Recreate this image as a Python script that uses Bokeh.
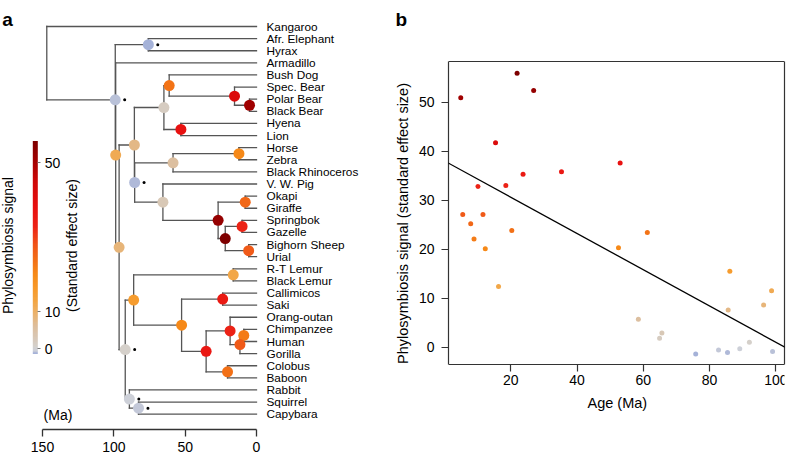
import numpy as np
from bokeh.plotting import figure
from bokeh.models import (ColumnDataSource, Range1d, LinearColorMapper, ColorBar,
                          FixedTicker, Label, Slope, Span, LinearAxis)
from bokeh.layouts import row
from bokeh.embed import file_html
from bokeh.resources import INLINE
from bokeh.transform import transform, dodge
from bokeh.core.properties import value

FONT = "Liberation Sans"

# ---------------- data ----------------
tips = ["Kangaroo", "Afr. Elephant", "Hyrax", "Armadillo", "Bush Dog", "Spec. Bear",
        "Polar Bear", "Black Bear", "Hyena", "Lion", "Horse", "Zebra", "Black Rhinoceros",
        "V. W. Pig", "Okapi", "Giraffe", "Springbok", "Gazelle", "Bighorn Sheep", "Urial",
        "R-T Lemur", "Black Lemur", "Callimicos", "Saki", "Orang-outan", "Chimpanzee",
        "Human", "Gorilla", "Colobus", "Baboon", "Rabbit", "Squirrel", "Capybara"]

root_age = 147.0
root_children = ["Kangaroo", "Eutheria"]

node_names = ["Eutheria", "Afrotheria", "Exafroplacentalia", "Boreoeutheria",
              "Laurasiatheria", "Carnivora", "Caniformia", "Ursidae", "Ursus",
              "Feliformia", "Euungulata", "Perissodactyla", "Equus", "Cetartiodactyla",
              "Ruminantia", "Giraffidae", "Bovidae", "Antilopinae", "Caprinae",
              "Euarchontoglires", "Primates", "Lemuridae", "Anthropoidea", "Platyrrhini",
              "Catarrhini", "Hominidae", "Hominini", "Homininae", "Cercopithecidae",
              "Glires", "Rodentia"]
node_age = [99.0, 75.8, 98.7, 96.3,
            85.6, 64.9, 61.2, 15.4, 4.9,
            53.0, 85.4, 58.5, 12.3, 65.6,
            26.9, 7.9, 21.9, 10.1, 5.5,
            92.0, 86.1, 16.3, 52.5, 23.7,
            35.3, 18.5, 8.9, 11.6, 20.3,
            89.1, 82.7]
node_signal = [-0.9, -1.4, 11.5, 8.6,
               7.6, 1.8, 23.4, 41.7, 50.9,
               37.6, -1.1, 5.7, 20.1, 2.9,
               52.4, 25.2, 55.9, 32.8, 27.1,
               1.0, 15.5, 12.4, 20.3, 35.3,
               35.8, 33.0, 22.1, 27.1, 23.8,
               -0.3, -0.6]
node_child_a = ["Afrotheria", "Afr. Elephant", "Armadillo", "Laurasiatheria",
                "Carnivora", "Caniformia", "Bush Dog", "Spec. Bear", "Polar Bear",
                "Hyena", "Perissodactyla", "Equus", "Horse", "V. W. Pig",
                "Giraffidae", "Okapi", "Antilopinae", "Springbok", "Bighorn Sheep",
                "Primates", "Lemuridae", "R-T Lemur", "Platyrrhini", "Callimicos",
                "Hominidae", "Orang-outan", "Chimpanzee", "Hominini", "Colobus",
                "Rabbit", "Squirrel"]
node_child_b = ["Exafroplacentalia", "Hyrax", "Boreoeutheria", "Euarchontoglires",
                "Euungulata", "Feliformia", "Ursidae", "Ursus", "Black Bear",
                "Lion", "Cetartiodactyla", "Black Rhinoceros", "Zebra", "Ruminantia",
                "Bovidae", "Giraffe", "Caprinae", "Gazelle", "Urial",
                "Glires", "Anthropoidea", "Black Lemur", "Catarrhini", "Saki",
                "Cercopithecidae", "Homininae", "Human", "Gorilla", "Baboon",
                "Rodentia", "Capybara"]
node_nonsig = [True, True, False, False,
               False, False, False, False, False,
               False, True, False, False, False,
               False, False, False, False, False,
               True, False, False, False, False,
               False, False, False, False, False,
               True, True]

tree_ticks = [0, 50, 100, 150]
colorbar_ticks = [0, 10, 50]
age_ticks = [20, 40, 60, 80, 100]
signal_ticks = [0, 10, 20, 30, 40, 50]
age_lim = (1.2, 102.6)
signal_lim = (-3.6, 58.3)
fit_intercept = 38.0
fit_slope = -0.370

# ---------------- colour scale (style) ----------------
cmap_stops = [(-1.4, "#a5b2d8"), (-0.5, "#cdd0d8"), (0.5, "#d5d1cd"), (3.0, "#d8c7b5"),
              (6.0, "#ddbe9c"), (10.0, "#edb064"), (13.0, "#f3a440"), (16.0, "#f79a2a"),
              (20.0, "#f68a18"), (24.0, "#f26e16"), (28.0, "#f05418"), (33.0, "#ec2216"),
              (38.0, "#e81010"), (45.0, "#cf0808"), (51.0, "#a00000"), (55.9, "#7e0000")]


def _rgb(h):
    return np.array([int(h[i:i + 2], 16) for i in (1, 3, 5)], dtype=float)


def build_palette(stops, n=256):
    vals = np.array([s[0] for s in stops])
    cols = np.array([_rgb(s[1]) for s in stops])
    grid = np.linspace(vals[0], vals[-1], n)
    out = []
    for g in grid:
        c = [np.interp(g, vals, cols[:, k]) for k in range(3)]
        out.append("#%02x%02x%02x" % tuple(int(round(v)) for v in c))
    return out


palette = build_palette(cmap_stops)
mapper = LinearColorMapper(palette=palette, low=cmap_stops[0][0], high=cmap_stops[-1][0])

# ---------------- tree layout from topology ----------------
children = dict(zip(node_names, zip(node_child_a, node_child_b)))
children["root"] = tuple(root_children)
age_of = {t: 0.0 for t in tips}
age_of.update(dict(zip(node_names, node_age)))
age_of["root"] = root_age
ypos = {t: float(i) for i, t in enumerate(tips)}


def y_of(n):
    if n not in ypos:
        a, b = children[n]
        ypos[n] = (y_of(a) + y_of(b)) / 2.0
    return ypos[n]


for n in children:
    y_of(n)

sx0, sy0, sx1, sy1 = [], [], [], []
for n, (a, b) in children.items():
    sx0.append(age_of[n]); sy0.append(ypos[a]); sx1.append(age_of[n]); sy1.append(ypos[b])
    for c in (a, b):
        sx0.append(age_of[n]); sy0.append(ypos[c]); sx1.append(age_of[c]); sy1.append(ypos[c])
seg_src = ColumnDataSource(dict(x0=sx0, y0=sy0, x1=sx1, y1=sy1))

node_src = ColumnDataSource(dict(name=node_names, age=node_age, signal=node_signal,
                                 y=[ypos[n] for n in node_names]))
ns_names = [n for n, f in zip(node_names, node_nonsig) if f]
dot_src = ColumnDataSource(dict(age=[age_of[n] for n in ns_names],
                                y=[ypos[n] for n in ns_names]))
tip_src = ColumnDataSource(dict(x=[age_of[t] for t in tips], y=[ypos[t] for t in tips],
                                name=tips))

H = 458
BOTTOM = 29

# ---------------- panel a: tree ----------------
LW = 415
p = figure(width=LW, height=H, x_range=Range1d(179.44, -111.45),
           y_range=Range1d(33.263, -2.146), toolbar_location=None, output_backend="svg",
           y_axis_location=None, min_border_left=0, min_border_right=0,
           min_border_top=0, min_border_bottom=BOTTOM)
p.outline_line_color = None
p.grid.grid_line_color = None
p.background_fill_color = "white"
p.border_fill_color = "white"

p.segment("x0", "y0", "x1", "y1", source=seg_src, line_color="#555555",
          line_width=1.3, line_cap="square")
p.scatter("age", "y", source=node_src, size=11, line_color=None,
          fill_color=transform("signal", mapper))
p.scatter(x=dodge("age", -6.6), y="y", source=dot_src, size=3, line_color=None,
          fill_color="black")
p.text(x="x", y="y", text="name", source=tip_src, x_offset=10, text_align="left",
       text_baseline="middle", text_font=value(FONT), text_font_size="11.8px",
       text_color="black")

ax = p.xaxis[0]
ax.ticker = FixedTicker(ticks=tree_ticks)
ax.bounds = (min(tree_ticks), max(tree_ticks))
ax.axis_line_color = "#333333"
ax.axis_line_width = 1.3
ax.major_tick_line_color = "#333333"
ax.major_tick_line_width = 1.3
ax.major_tick_in = 0
ax.major_tick_out = 7
ax.minor_tick_line_color = None
ax.major_label_standoff = 5
ax.major_label_text_font = FONT
ax.major_label_text_font_size = "14px"
ax.major_label_text_color = "black"

cb = ColorBar(color_mapper=mapper, location=(32.3, 75.5), orientation="vertical",
              width=5, height=213, padding=0, margin=0,
              ticker=FixedTicker(ticks=colorbar_ticks),
              major_label_text_font=FONT, major_label_text_font_size="14px",
              major_label_text_color="black",
              major_tick_in=0, major_tick_out=3, major_tick_line_color="#777777",
              label_standoff=4, bar_line_color=None, border_line_color=None,
              background_fill_alpha=0)
p.add_layout(cb, "center")


def screen_label(fig, x, y, text, size="14px", angle=0.0, bold=False,
                 align="center", baseline="middle"):
    fig.add_layout(Label(x=x, y=y, x_units="screen", y_units="screen", text=text,
                         angle=angle, text_font=FONT, text_font_size=size,
                         text_font_style="bold" if bold else "normal",
                         text_align=align, text_baseline=baseline, text_color="black"))


screen_label(p, 1.7, 410, "a", size="19px", bold=True, align="left", baseline="alphabetic")
screen_label(p, 7.8, 184, "Phylosymbiosis signal", angle=np.pi / 2)
screen_label(p, 71.7, 184, "(Standard effect size)", angle=np.pi / 2)
screen_label(p, 57.5, 14.8, "(Ma)")
screen_label(p, 395, 409.7, "b", size="19px", bold=True, align="left", baseline="alphabetic")
screen_label(p, 402, 206, "Phylosymbiosis signal (standard effect size)", size="14.5px",
             angle=np.pi / 2)

# ---------------- panel b: scatter ----------------
RW = 788 - LW
q = figure(width=RW, height=H, x_range=Range1d(*age_lim), y_range=Range1d(-16.8, 70.75),
           toolbar_location=None, output_backend="svg",
           min_border_left=32, min_border_right=4, min_border_top=0,
           min_border_bottom=BOTTOM)
q.grid.grid_line_color = None
q.outline_line_color = None
q.background_fill_color = "white"
q.border_fill_color = "white"

q.add_layout(Slope(gradient=fit_slope, y_intercept=fit_intercept, line_color="black",
                   line_width=1.3))
q.scatter("age", "signal", source=node_src, size=5, line_color=None,
          fill_color=transform("signal", mapper))

xa = q.xaxis[0]
ya = q.yaxis[0]
xa.fixed_location = signal_lim[0]
ya.bounds = signal_lim
for axis, ticks in ((xa, age_ticks), (ya, signal_ticks)):
    axis.ticker = FixedTicker(ticks=ticks)
    axis.axis_line_color = "#333333"
    axis.axis_line_width = 1.2
    axis.major_tick_line_color = "#333333"
    axis.major_tick_line_width = 1.2
    axis.major_tick_in = 0
    axis.major_tick_out = 7
    axis.minor_tick_line_color = None
    axis.major_label_text_font = FONT
    axis.major_label_text_font_size = "14px"
    axis.major_label_text_color = "black"
xa.major_label_standoff = 3
ya.major_label_standoff = 7

right_edge = LinearAxis(ticker=FixedTicker(ticks=[]), bounds=signal_lim,
                        axis_line_color="#333333", axis_line_width=1.2,
                        major_tick_in=0, major_tick_out=0, minor_tick_in=0,
                        minor_tick_out=0, major_label_standoff=0,
                        major_label_text_font_size="0px")
q.add_layout(right_edge, "right")
q.add_layout(Span(location=signal_lim[1], dimension="width", line_color="#333333",
                  line_width=1.2))

screen_label(q, 168.8, 26.3, "Age (Ma)", size="14.5px")

layout = row(p, q)
with open("out.html", "w") as f:
    f.write(file_html(layout, INLINE, title="Phylosymbiosis"))
